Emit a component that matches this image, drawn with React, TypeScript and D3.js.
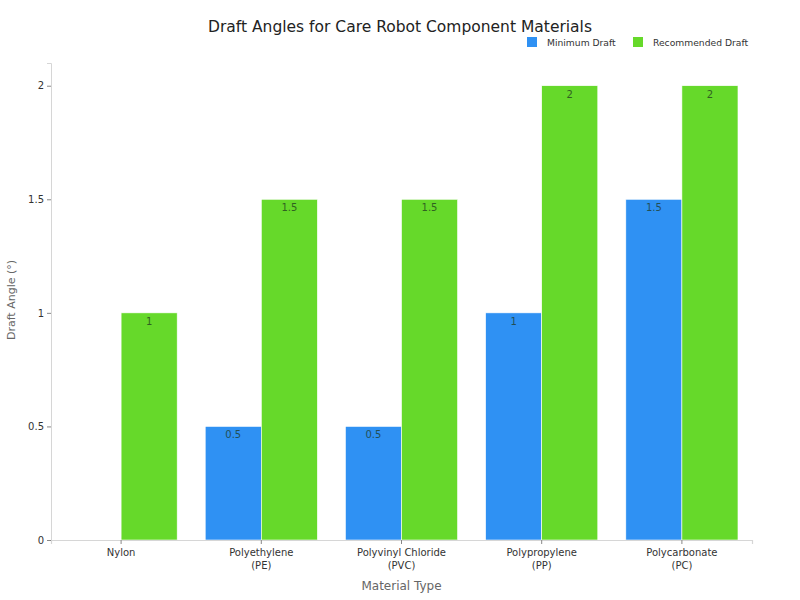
import React, { useEffect, useRef } from "react";
import * as d3 from "d3";

// chart data
const categories = [
  "Nylon",
  "Polyethylene\n(PE)",
  "Polyvinyl Chloride\n(PVC)",
  "Polypropylene\n(PP)",
  "Polycarbonate\n(PC)",
];
const minimumDraft = [0, 0.5, 0.5, 1, 1.5];
const recommendedDraft = [1, 1.5, 1.5, 2, 2];
const yTicks = [0, 0.5, 1, 1.5, 2];
const seriesNames = ["Minimum Draft", "Recommended Draft"];
const seriesColors = ["#2f91f3", "#66d92a"];

const App: React.FC = () => {
  const svgRef = useRef<SVGSVGElement | null>(null);

  useEffect(() => {
    const width = 800;
    const height = 600;
    const margin = { top: 63, right: 48, bottom: 60, left: 51 };

    const svg = d3.select(svgRef.current);
    svg.selectAll("*").remove();

    const font = "'DejaVu Sans', sans-serif";

    const xScale = d3
      .scaleBand()
      .domain(categories)
      .range([margin.left, width - margin.right])
      .padding(0);

    const yScale = d3
      .scaleLinear()
      .domain([0, 2.1])
      .range([height - margin.bottom, margin.top]);

    const barW = xScale.bandwidth() * 0.4;
    const series = [minimumDraft, recommendedDraft];
    const barX = (i: number, si: number) =>
      xScale(categories[i])! + xScale.bandwidth() / 2 + (si - 1) * barW;

    // bars + value labels
    series.forEach((values, si) => {
      const g = svg.append("g");
      g.selectAll("rect")
        .data(values)
        .enter()
        .append("rect")
        .attr("x", (_, i) => barX(i, si))
        .attr("y", (d) => yScale(d))
        .attr("width", barW)
        .attr("height", (d) => yScale(0) - yScale(d))
        .attr("fill", seriesColors[si])
        .attr("stroke", "#ffffff")
        .attr("stroke-width", (d) => (d > 0 ? 0.6 : 0));

      g.selectAll("text")
        .data(values)
        .enter()
        .append("text")
        .attr("x", (_, i) => barX(i, si) + barW / 2)
        .attr("y", (d) => yScale(d) + 12)
        .attr("text-anchor", "middle")
        .style("font-family", font)
        .style("font-size", "10px")
        .style("fill", "#1f3a1f")
        .style("opacity", 0.75)
        .text((d) => (d > 0 ? String(d) : ""));
    });

    // x axis
    const xAxis = svg
      .append("g")
      .attr("transform", `translate(0, ${height - margin.bottom})`)
      .call(d3.axisBottom(xScale).tickSize(4).tickFormat(() => ""));
    xAxis.select(".domain").attr("stroke", "#d6d6d6").attr("stroke-width", 1.2);
    xAxis.selectAll(".tick line").attr("stroke", "#888");

    categories.forEach((c) => {
      const cx = xScale(c)! + xScale.bandwidth() / 2;
      const t = svg
        .append("text")
        .attr("x", cx)
        .attr("y", height - margin.bottom + 16)
        .attr("text-anchor", "middle")
        .style("font-family", font)
        .style("font-size", "10px")
        .style("fill", "#333");
      c.split("\n").forEach((l, li) => {
        t.append("tspan")
          .attr("x", cx)
          .attr("dy", li === 0 ? 0 : 13)
          .text(l);
      });
    });

    // y axis
    const yAxis = svg
      .append("g")
      .attr("transform", `translate(${margin.left},0)`)
      .call(d3.axisLeft(yScale).tickValues(yTicks).tickSize(4).tickFormat((d) => String(d)));
    yAxis.select(".domain").attr("stroke", "#d6d6d6").attr("stroke-width", 1);
    yAxis.selectAll(".tick line").attr("stroke", "#888");
    yAxis
      .selectAll(".tick text")
      .style("font-family", font)
      .style("font-size", "10px")
      .style("fill", "#333");

    // axis titles
    svg
      .append("text")
      .attr("x", (margin.left + width - margin.right) / 2)
      .attr("y", 590)
      .attr("text-anchor", "middle")
      .style("font-family", font)
      .style("font-size", "12px")
      .style("fill", "#666")
      .text("Material Type");

    svg
      .append("text")
      .attr("transform", "rotate(-90)")
      .attr("x", -300)
      .attr("y", 15)
      .attr("text-anchor", "middle")
      .style("font-family", font)
      .style("font-size", "11px")
      .style("fill", "#666")
      .text("Draft Angle (°)");

    // title
    svg
      .append("text")
      .attr("x", 400)
      .attr("y", 32)
      .attr("text-anchor", "middle")
      .style("font-family", font)
      .style("font-size", "15.5px")
      .style("fill", "#222")
      .text("Draft Angles for Care Robot Component Materials");

    // legend
    const legendX = [527, 633];
    seriesNames.forEach((name, i) => {
      svg
        .append("rect")
        .attr("x", legendX[i])
        .attr("y", 37)
        .attr("width", 10)
        .attr("height", 10)
        .attr("fill", seriesColors[i]);
      svg
        .append("text")
        .attr("x", legendX[i] + 20)
        .attr("y", 46)
        .style("font-family", font)
        .style("font-size", "9.2px")
        .style("fill", "#333")
        .text(name);
    });
  }, []);

  return (
    <svg
      ref={svgRef}
      width={800}
      height={600}
      style={{ position: "absolute", left: 0, top: 0, background: "#fff" }}
    ></svg>
  );
};

export default App;
